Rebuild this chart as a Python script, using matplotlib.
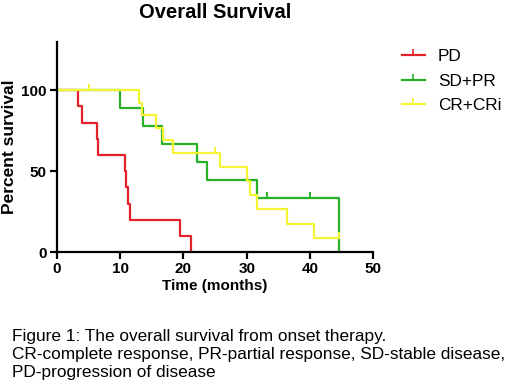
import matplotlib
matplotlib.use("Agg")
import matplotlib.pyplot as plt
from matplotlib.path import Path

plt.rcParams['font.family'] = ['Liberation Sans', 'DejaVu Sans']

# Kaplan-Meier steps (months, percent survival)
pd_t = [0, 3.3, 4.0, 6.4, 6.6, 10.8, 11.0, 11.3, 11.5, 19.5, 21.2]
pd_s = [100, 90, 80, 70, 60, 50, 40, 30, 20, 10, 0]

sd_t = [0, 10.0, 13.7, 16.6, 22.1, 23.8, 31.6, 44.5]
sd_s = [100, 88.9, 77.8, 66.7, 55.6, 44.4, 33.3, 0]
sd_cens_t = [33.2, 40.0]
sd_cens_s = [33.3, 33.3]

cr_t = [0, 13.05, 13.5, 15.7, 16.8, 18.3, 25.8, 30.0, 30.5, 31.7, 36.4, 40.7, 44.5]
cr_s = [100, 92.3, 84.6, 76.9, 69.2, 61.5, 52.7, 43.9, 35.2, 26.4, 17.6, 8.8, 8.8]
cr_cens_t = [5.05, 25.0, 44.5]
cr_cens_s = [100, 61.5, 8.8]

labels = ["PD", "SD+PR", "CR+CRi"]
colors = ["#e3212a", "#28b028", "#f4f432"]

x_ticks = [0, 10, 20, 30, 40, 50]
y_ticks = [0, 50, 100]

caption = ("Figure 1: The overall survival from onset therapy.\n"
           "CR-complete response, PR-partial response, SD-stable disease,\n"
           "PD-progression of disease")

tick_up = Path([(0, 0), (0, 1)], [Path.MOVETO, Path.LINETO])

fig = plt.figure(figsize=(5.2, 3.85), dpi=100)
ax = fig.add_axes([0.109, 0.345, 0.609, 0.547])

series = [(pd_t, pd_s, [], []),
          (sd_t, sd_s, sd_cens_t, sd_cens_s),
          (cr_t, cr_s, cr_cens_t, cr_cens_s)]
for (t, s, ct, cs), lab, col in zip(series, labels, colors):
    ax.step(t, s, where='post', color=col, lw=1.6, label=lab)
    if ct:
        ax.plot(ct, cs, ls='none', marker=tick_up, ms=9, mew=1.4, color=col)

# legend handles: line with a small censor tick
handles = [plt.Line2D([], [], color=c, lw=1.6, marker=tick_up, ms=8, mew=1.2)
           for c in colors]
ax.legend(handles, labels, loc='upper left', bbox_to_anchor=(1.04, 1.04),
          frameon=False, numpoints=1, fontsize=12.4, handlelength=1.35,
          handletextpad=0.75, labelspacing=0.57)

ax.set_xlim(0, 50)
ax.set_ylim(0, 130)
ax.set_xticks(x_ticks)
ax.set_yticks(y_ticks)
for sp in ['top', 'right']:
    ax.spines[sp].set_visible(False)
for sp in ['left', 'bottom']:
    ax.spines[sp].set_linewidth(1.6)
ax.tick_params(width=1.6, length=5, labelsize=11, pad=2)
for lb in ax.get_xticklabels() + ax.get_yticklabels():
    lb.set_fontweight('bold')

ax.set_xlabel("Time (months)", fontsize=11, fontweight='bold', labelpad=2)
ax.set_ylabel("Percent survival", fontsize=12.5, fontweight='bold')
ax.yaxis.set_label_coords(-0.125, 0.5)
fig.text(0.413, 0.992, "Overall Survival", fontsize=14.5, fontweight='bold',
         ha='center', va='top')

fig.text(0.023, 0.145, caption, fontsize=12.4, ha='left', va='top',
         linespacing=1.25)

fig.savefig("out.png", dpi=100)
